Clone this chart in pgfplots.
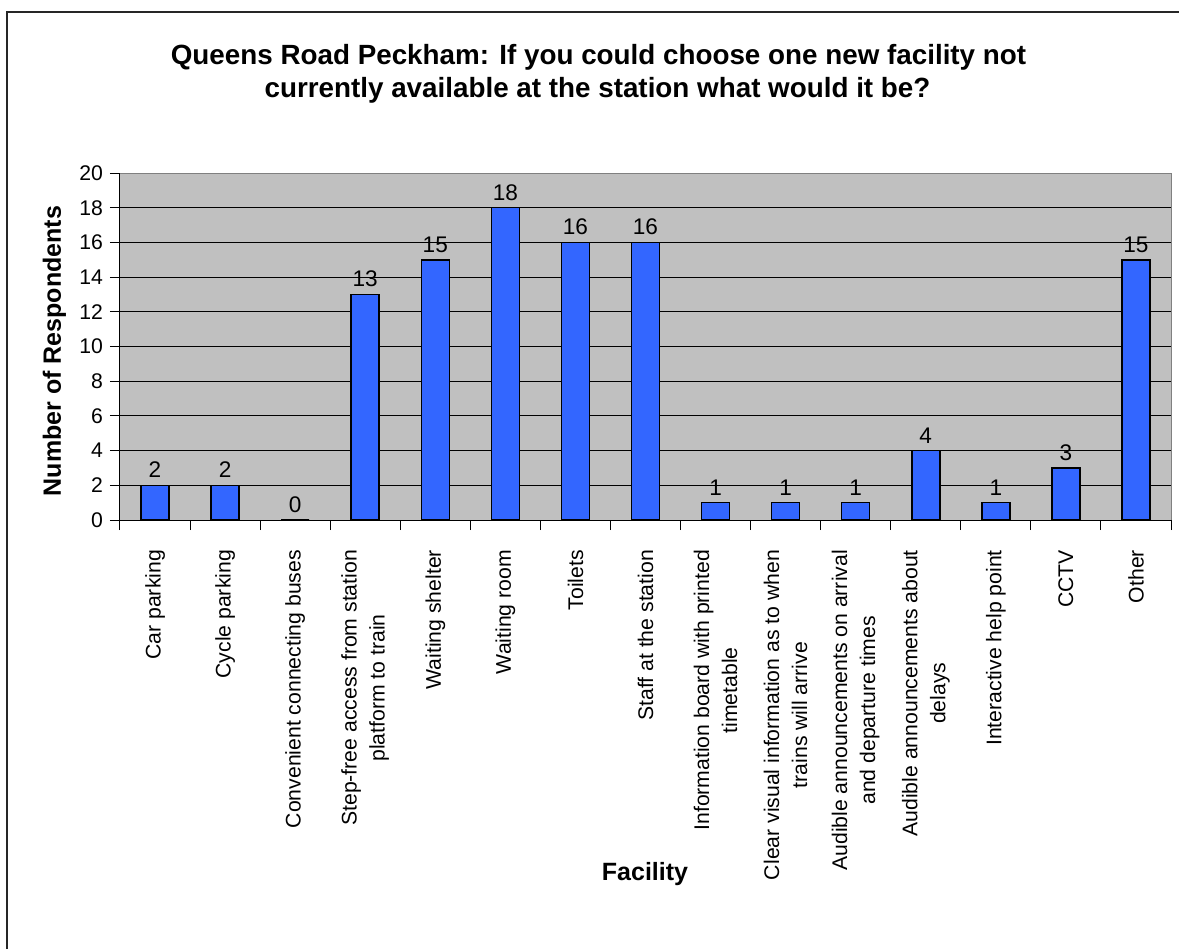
\documentclass[border=0pt]{standalone}
\usepackage{fontspec}
\setmainfont{Liberation Sans}
\usepackage{pgfplots}
\pgfplotsset{compat=1.18}
\definecolor{barblue}{RGB}{51,102,255}
\definecolor{plotgray}{RGB}{192,192,192}
\definecolor{bordergray}{RGB}{128,128,128}
\begin{document}
\begin{tikzpicture}
\useasboundingbox (0,0) rectangle (589.5pt,474.5pt);
\draw[line width=0.75pt, black!85] (3.5pt,0pt) -- (3.5pt,468.5pt) -- (589.5pt,468.5pt);
\begin{axis}[
  at={(60pt,214.5pt)}, anchor=south west,
  scale only axis, width=525.5pt, height=173.5pt,
  xmin=-0.5, xmax=14.5, ymin=0, ymax=20,
  ybar, bar width=14pt,
  axis background/.style={fill=plotgray, draw=bordergray, line width=0.5pt},
  axis x line*=bottom, axis y line*=left,
  axis line style={-, black, line width=0.5pt},
  xtick={-0.5,0.5,...,14.5},
  x tick label as interval,
  xticklabels={Car parking, Cycle parking, Convenient connecting buses,
    {Step-free access from station\\platform to train}, Waiting shelter, Waiting room,
    Toilets, Staff at the station, {Information board with printed\\timetable},
    {Clear visual information as to when\\trains will arrive},
    {Audible announcements on arrival\\and departure times},
    {Audible announcements about\\delays}, Interactive help point, CCTV, Other},
  ytick={0,2,...,18},
  extra y ticks={20},
  extra y tick style={grid=none},
  ymajorgrids, major grid style={black, line width=0.5pt},
  tick align=outside, major tick length=5pt,
  tick style={black, line width=0.5pt},
  xticklabel shift=6.5pt,
  xticklabel style={rotate=90, anchor=east, align=center, font=\fontsize{10.6}{14}\selectfont},
  yticklabel style={font=\fontsize{10.6}{13}\selectfont},
  /pgf/number format/assume math mode=true,
  nodes near coords,
  every node near coord/.append style={font=\fontsize{11.3}{13}\selectfont, black},
  enlargelimits=false,
  clip=false,
]
\addplot[fill=barblue, draw=black, line width=0.75pt] coordinates {
(0,2) (1,2) (2,0) (3,13) (4,15) (5,18) (6,16) (7,16) (8,1) (9,1) (10,1) (11,4) (12,1) (13,3) (14,15)};
\end{axis}
\node[anchor=base, font=\fontsize{13.9}{16}\selectfont\bfseries] at (299.25pt,442pt) {Queens Road Peckham: If you could choose one new facility not};
\node[anchor=base, font=\fontsize{13.9}{16}\selectfont\bfseries] at (298.75pt,425.5pt) {currently available at the station what would it be?};
\node[anchor=base, rotate=90, font=\fontsize{12.5}{15}\selectfont\bfseries] at (30.5pt,299pt) {Number of Respondents};
\node[anchor=base, font=\fontsize{12.5}{15}\selectfont\bfseries] at (322.5pt,34.5pt) {Facility};
\end{tikzpicture}
\end{document}
